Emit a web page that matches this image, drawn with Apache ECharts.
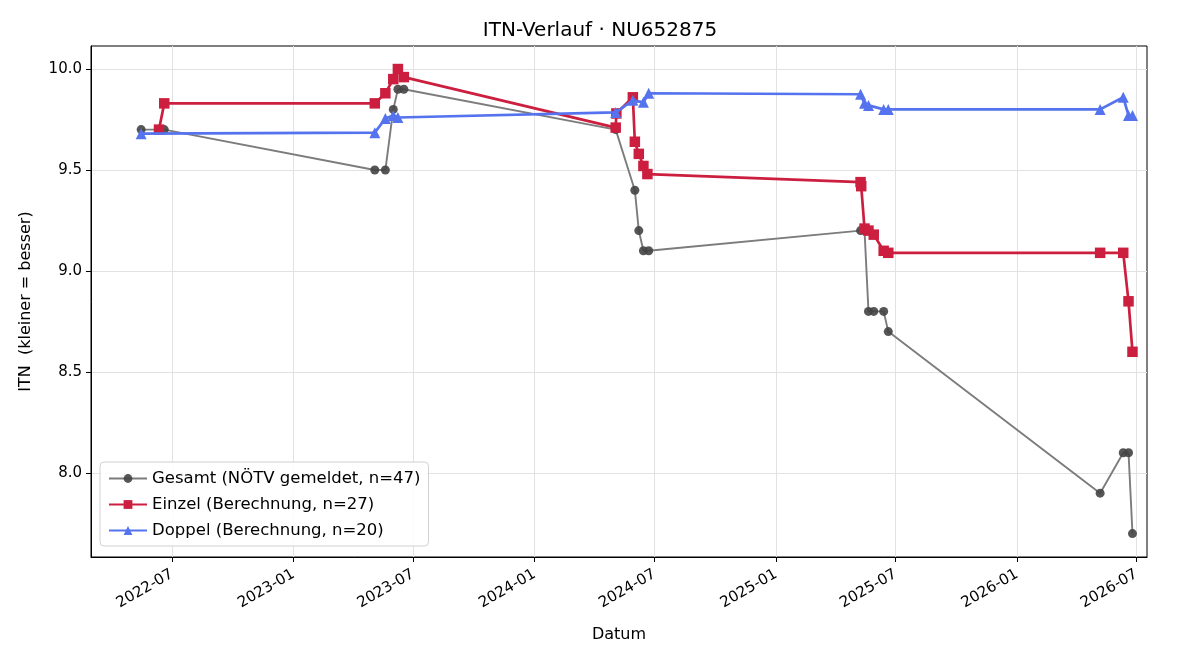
<!DOCTYPE html>
<html>
<head>
<meta charset="utf-8">
<script src="https://cdn.jsdelivr.net/npm/echarts@6/dist/echarts.min.js"></script>
<style>
  html, body { margin: 0; padding: 0; background: #fff; }
  #chart { width: 1200px; height: 660px; }
</style>
</head>
<body>
<div id="chart"></div>
<script>
// Gesamt (NÖTV gemeldet)
var gesamtDates = ['2022-05-15', '2022-06-11', '2022-06-19', '2023-05-04', '2023-05-20', '2023-06-01',
  '2023-06-08', '2023-06-17', '2024-05-03', '2024-06-01', '2024-06-07', '2024-06-14', '2024-06-22',
  '2025-05-09', '2025-05-15', '2025-05-21', '2025-05-29', '2025-06-13', '2025-06-20',
  '2026-05-07', '2026-06-11', '2026-06-19', '2026-06-25'];
var gesamtValues = [9.7, 9.7, 9.7, 9.5, 9.5, 9.8,
  9.9, 9.9, 9.7, 9.4, 9.2, 9.1, 9.1,
  9.2, 9.2, 8.8, 8.8, 8.8, 8.7,
  7.9, 8.1, 8.1, 7.7];

// Einzel (Berechnung)
var einzelDates = ['2022-06-11', '2022-06-19', '2023-05-04', '2023-05-20', '2023-06-01', '2023-06-08',
  '2023-06-17', '2024-05-03', '2024-05-04', '2024-05-29', '2024-06-01', '2024-06-07', '2024-06-14',
  '2024-06-20', '2025-05-09', '2025-05-10', '2025-05-15', '2025-05-21', '2025-05-29', '2025-06-13',
  '2025-06-20', '2026-05-07', '2026-06-11', '2026-06-19', '2026-06-25'];
var einzelValues = [9.70, 9.83, 9.83, 9.88, 9.95, 10.0,
  9.96, 9.71, 9.78, 9.86, 9.64, 9.58, 9.52,
  9.48, 9.44, 9.42, 9.21, 9.20, 9.18, 9.10,
  9.09, 9.09, 9.09, 8.85, 8.60];

// Doppel (Berechnung)
var doppelDates = ['2022-05-15', '2023-05-04', '2023-05-20', '2023-06-01', '2023-06-08',
  '2024-05-03', '2024-05-29', '2024-06-14', '2024-06-22', '2025-05-09', '2025-05-15',
  '2025-05-21', '2025-06-13', '2025-06-20', '2026-05-07', '2026-06-11', '2026-06-19', '2026-06-25'];
var doppelValues = [9.68, 9.685, 9.755, 9.77, 9.76,
  9.785, 9.845, 9.835, 9.88, 9.875, 9.83,
  9.82, 9.80, 9.80, 9.80, 9.86, 9.77, 9.77];

var xTicks = ['2022-07-01', '2023-01-01', '2023-07-01', '2024-01-01', '2024-07-01',
  '2025-01-01', '2025-07-01', '2026-01-01', '2026-07-01'];
var yTicks = [8.0, 8.5, 9.0, 9.5, 10.0];

function ts(d) { return Date.parse(d + 'T00:00:00Z'); }
function pairs(dates, values) {
  return dates.map(function (d, i) { return [ts(d), values[i]]; });
}

var font = 'DejaVu Sans';
var xTickTimes = xTicks.map(ts);

var chart = echarts.init(document.getElementById('chart'));
chart.setOption({
  animation: false,
  textStyle: { fontFamily: font },
  title: {
    text: 'ITN-Verlauf · NU652875',
    left: 'center',
    top: 16,
    textStyle: { fontFamily: font, fontSize: 20, fontWeight: 'normal', color: '#000' }
  },
  grid: { left: 91, right: 53, top: 46, bottom: 103, show: true, borderColor: '#000', borderWidth: 1 },
  legend: {
    orient: 'vertical',
    left: 100,
    top: 462,
    itemWidth: 38,
    itemHeight: 11,
    itemGap: 9,
    padding: [8, 8, 7, 8],
    borderColor: '#d0d0d0',
    borderWidth: 1,
    borderRadius: 4,
    backgroundColor: 'rgba(255,255,255,0.85)',
    textStyle: { fontFamily: font, fontSize: 16.5, color: '#000' },
    data: ['Gesamt (NÖTV gemeldet, n=47)', 'Einzel (Berechnung, n=27)', 'Doppel (Berechnung, n=20)']
  },
  xAxis: {
    type: 'value',
    min: ts('2022-02-28'),
    max: ts('2026-07-17'),
    name: 'Datum',
    nameLocation: 'middle',
    nameGap: 70,
    nameTextStyle: { fontFamily: font, fontSize: 16, color: '#000' },
    axisLine: { show: true, onZero: false, lineStyle: { color: '#000' } },
    axisTick: { show: true, customValues: xTickTimes, length: 5, lineStyle: { color: '#000' } },
    axisLabel: {
      customValues: xTickTimes,
      rotate: 30,
      fontSize: 15,
      color: '#000',
      margin: 16,
      formatter: function (v) {
        var d = new Date(v);
        var m = d.getUTCMonth() + 1;
        return d.getUTCFullYear() + '-' + (m < 10 ? '0' + m : m);
      }
    },
    splitLine: { show: true, lineStyle: { color: '#e2e2e2' } }
  },
  yAxis: {
    type: 'value',
    min: 7.584,
    max: 10.114,
    name: 'ITN  (kleiner = besser)',
    nameLocation: 'middle',
    nameGap: 57,
    nameTextStyle: { fontFamily: font, fontSize: 16, color: '#000' },
    axisLine: { show: true, onZero: false, lineStyle: { color: '#000' } },
    axisTick: { show: true, customValues: yTicks, length: 5, lineStyle: { color: '#000' } },
    axisLabel: {
      customValues: yTicks,
      fontSize: 15,
      color: '#000',
      margin: 9,
      formatter: function (v) { return v.toFixed(1); }
    },
    splitLine: { show: true, lineStyle: { color: '#e2e2e2' } }
  },
  series: [
    {
      name: 'Gesamt (NÖTV gemeldet, n=47)',
      type: 'line',
      data: pairs(gesamtDates, gesamtValues),
      symbol: 'circle',
      symbolSize: 9,
      showAllSymbol: true,
      lineStyle: { color: '#7c7c7c', width: 1.9 },
      itemStyle: { color: '#444444', opacity: 0.9 },
      z: 2
    },
    {
      name: 'Einzel (Berechnung, n=27)',
      type: 'line',
      data: pairs(einzelDates, einzelValues),
      symbol: 'rect',
      symbolSize: 10.5,
      showAllSymbol: true,
      lineStyle: { color: '#cc1f3f', width: 2.7 },
      itemStyle: { color: '#cc1f3f' },
      z: 3
    },
    {
      name: 'Doppel (Berechnung, n=20)',
      type: 'line',
      data: pairs(doppelDates, doppelValues),
      symbol: 'triangle',
      symbolSize: 11,
      showAllSymbol: true,
      lineStyle: { color: '#5573ee', width: 2.7 },
      itemStyle: { color: '#5573ee' },
      z: 4
    }
  ]
});
</script>
</body>
</html>
